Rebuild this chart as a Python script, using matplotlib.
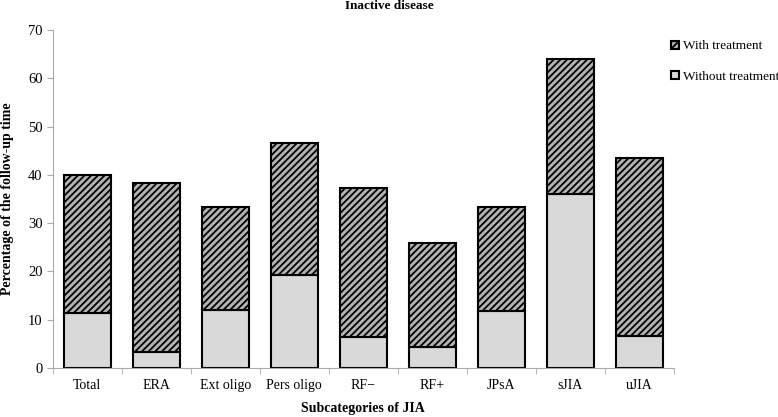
import matplotlib
matplotlib.use('Agg')
import matplotlib.pyplot as plt
import numpy as np

# Data
categories = ['Total', 'ERA', 'Ext oligo', 'Pers oligo', 'RF\u2212', 'RF+', 'JPsA', 'sJIA', 'uJIA']
without_treatment = [11.5, 3.4, 12.0, 19.2, 6.4, 4.3, 11.9, 36.0, 6.7]
total_inactive = [40.0, 38.4, 33.3, 46.6, 37.3, 25.9, 33.3, 64.0, 43.5]
with_treatment = [t - w for t, w in zip(total_inactive, without_treatment)]

plt.rcParams['font.family'] = ['Liberation Serif', 'DejaVu Serif']
plt.rcParams['hatch.linewidth'] = 1.3
plt.rcParams['hatch.color'] = 'black'

fig = plt.figure(figsize=(7.78, 4.17), dpi=100)
ax = fig.add_axes([0.068, 0.1175, 0.798, 0.81])

x = np.arange(len(categories))
b1 = ax.bar(x, without_treatment, width=0.68, color='#d9d9d9', edgecolor='black',
            linewidth=1.5, label='Without treatment')
b2 = ax.bar(x, with_treatment, width=0.68, bottom=without_treatment, color='#b3b3b3',
            edgecolor='black', linewidth=1.5, hatch='/////', label='With treatment')

ax.set_xlim(-0.5, len(categories) - 0.5)
ax.set_ylim(0, 70)
ax.set_yticks(range(0, 71, 10))
ax.set_xticks(x)
ax.set_xticklabels(categories, fontsize=10)
ax.set_xticks(np.arange(-0.5, len(categories)), minor=True)
ax.tick_params(axis='x', which='major', length=0, pad=8)
ax.tick_params(axis='x', which='minor', length=4, color='#aaaaaa')
ax.tick_params(axis='y', labelsize=10.5, color='#aaaaaa', length=4)

for s in ['top', 'right']:
    ax.spines[s].set_visible(False)
for s in ['left', 'bottom']:
    ax.spines[s].set_color('#aaaaaa')

ax.set_ylabel('Percentage of the follow-up time', fontsize=10, fontweight='bold', labelpad=10)
ax.set_xlabel('Subcategories of JIA', fontsize=10, fontweight='bold', labelpad=7)
fig.text(0.5, 0.985, 'Inactive disease', ha='center', va='center', fontsize=9.5, fontweight='bold')

fig.legend([b2, b1], ['With treatment', 'Without treatment'], loc='upper left',
           bbox_to_anchor=(0.862, 0.903), bbox_transform=fig.transFigure,
           frameon=False, fontsize=9.5, borderpad=0, borderaxespad=0,
           handlelength=0.6, handleheight=0.6, handletextpad=0.35, labelspacing=1.4)

plt.savefig('out.png', dpi=100)
